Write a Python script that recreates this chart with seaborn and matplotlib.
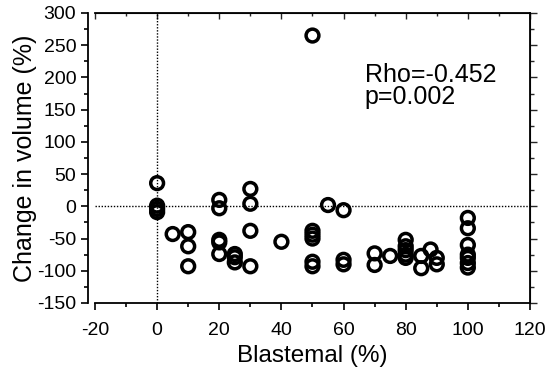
import pandas as pd
import seaborn as sns
import matplotlib.pyplot as plt
from matplotlib.ticker import MultipleLocator

# values
blastemal = [0, 0, 0, 0, 5, 10, 10, 10,
             20, 20, 20, 20, 20, 25, 25, 25,
             30, 30, 30, 30, 40,
             50, 50, 50, 50, 50, 50, 55, 60, 60, 60,
             70, 70, 75, 80, 80, 80, 80, 80,
             85, 85, 88, 90, 90,
             100, 100, 100, 100, 100, 100, 100]
change = [36, 1, -4, -9, -43, -40, -62, -93,
          10, -3, -52, -56, -74, -74, -79, -87,
          27, 4, -38, -93, -55,
          265, -38, -44, -50, -86, -93, 2, -6, -83, -90,
          -73, -91, -77, -52, -62, -68, -75, -80,
          -77, -96, -67, -80, -90,
          -18, -34, -60, -75, -80, -88, -95]
rho_text = "Rho=-0.452"
p_text = "p=0.002"

df = pd.DataFrame({"blastemal": blastemal, "change": change})

sns.set_style("ticks")
plt.rcParams["font.family"] = ["Liberation Sans", "DejaVu Sans"]
plt.rcParams["axes.unicode_minus"] = False
plt.rcParams["text.color"] = "black"

fig = plt.figure(figsize=(5.5, 3.67), dpi=100)
ax = fig.add_axes([0.1727, 0.1744, 0.7909, 0.7902])

ax.axhline(0, color="black", linestyle=(0, (1, 1.2)), linewidth=1.0, zorder=1)
ax.axvline(0, color="black", linestyle=(0, (1, 1.2)), linewidth=1.0, zorder=1)

sns.scatterplot(data=df, x="blastemal", y="change", ax=ax, marker="o",
                s=85, facecolor="none", edgecolor="black", linewidth=2.5,
                zorder=3)

ax.set_xlim(-20, 120)
ax.set_ylim(-150, 300)
ax.xaxis.set_major_locator(MultipleLocator(20))
ax.xaxis.set_minor_locator(MultipleLocator(10))
ax.yaxis.set_major_locator(MultipleLocator(50))
ax.yaxis.set_minor_locator(MultipleLocator(25))
ax.tick_params(which="both", direction="out", color="black", width=1.2,
               labelsize=14, labelcolor="black")
ax.tick_params(which="major", length=5)
ax.tick_params(which="minor", length=3)
ax.tick_params(axis="x", pad=9)

for side in ["left", "bottom", "top", "right"]:
    ax.spines[side].set_color("black")
    ax.spines[side].set_linewidth(1.3)
ax.spines["left"].set_position(("outward", 5))

top = ax.secondary_xaxis("top")
top.xaxis.set_major_locator(MultipleLocator(20))
top.xaxis.set_minor_locator(MultipleLocator(10))
top.tick_params(which="both", direction="in", labeltop=False, width=1.0)
top.tick_params(which="major", length=4)
top.tick_params(which="minor", length=2)
right = ax.secondary_yaxis("right")
right.yaxis.set_major_locator(MultipleLocator(50))
right.yaxis.set_minor_locator(MultipleLocator(25))
right.tick_params(which="both", direction="out", labelright=False, width=1.0)
right.tick_params(which="major", length=5)
right.tick_params(which="minor", length=3)

ax.set_xlabel("Blastemal (%)", fontsize=17.5, color="black", labelpad=4)
ax.set_ylabel("Change in volume (%)", fontsize=18, color="black", labelpad=0)

ax.text(0.62, 0.786, rho_text, transform=ax.transAxes, fontsize=18,
        va="center", ha="left", color="black")
ax.text(0.62, 0.71, p_text, transform=ax.transAxes, fontsize=18,
        va="center", ha="left", color="black")

fig.savefig("out.png", dpi=100)
